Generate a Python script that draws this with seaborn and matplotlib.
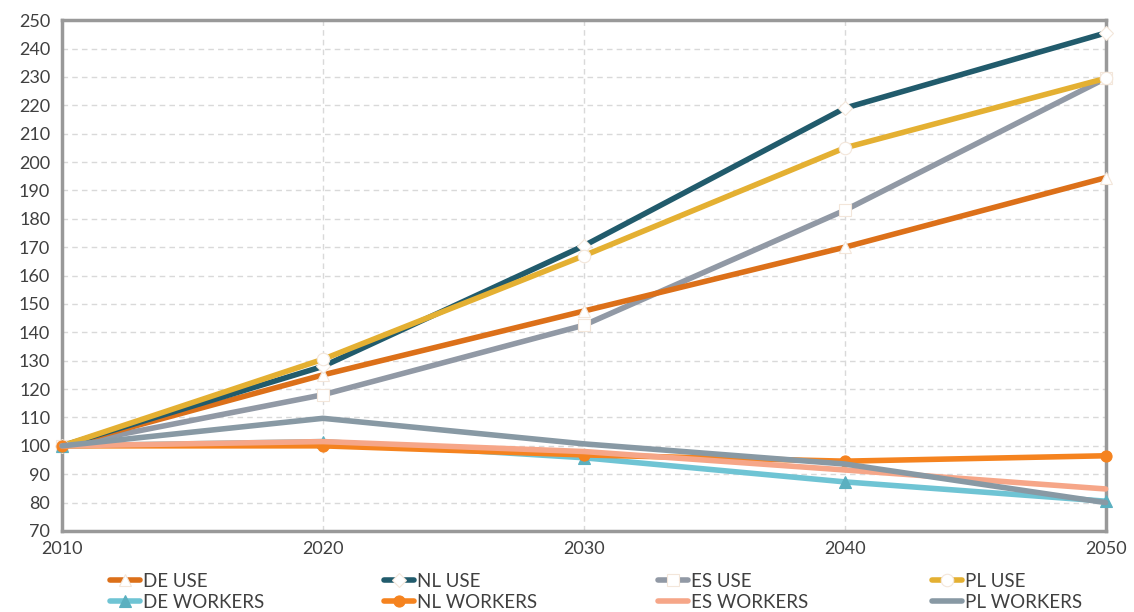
import pandas as pd
import matplotlib
matplotlib.use("Agg")
import matplotlib.pyplot as plt
import seaborn as sns

# Data (index, 2010 = 100)
years = [2010, 2020, 2030, 2040, 2050]
series_names = ["DE USE", "NL USE", "ES USE", "PL USE",
                "DE WORKERS", "NL WORKERS", "ES WORKERS", "PL WORKERS"]
de_use = [100, 125, 147.5, 170, 194.5]
nl_use = [100, 128, 170.5, 219, 245.5]
es_use = [100, 118, 142.5, 183, 229.5]
pl_use = [100, 130.5, 167, 205, 229.5]
de_workers = [100, 101.5, 95.8, 87.3, 80.5]
nl_workers = [100, 100, 96.8, 94.6, 96.5]
es_workers = [100, 101.5, 98, 91.5, 84.8]
pl_workers = [100, 109.7, 100.7, 93.6, 80]

values = [de_use, nl_use, es_use, pl_use, de_workers, nl_workers, es_workers, pl_workers]

rows = []
for name, vals in zip(series_names, values):
    for y, v in zip(years, vals):
        rows.append({"Year": y, "Value": v, "Series": name})
df = pd.DataFrame(rows)

# styles
colors = {
    "DE USE": "#DC7019", "NL USE": "#215B6C", "ES USE": "#9199A5", "PL USE": "#E4B032",
    "DE WORKERS": "#6FC4D4", "NL WORKERS": "#F5831F", "ES WORKERS": "#F6A688", "PL WORKERS": "#8899A4",
}
markers = {
    "DE USE": "^", "NL USE": "D", "ES USE": "s", "PL USE": "o",
    "DE WORKERS": "^", "NL WORKERS": "o", "ES WORKERS": "", "PL WORKERS": "",
}
face = {
    "DE USE": "white", "NL USE": "white", "ES USE": "white", "PL USE": "white",
    "DE WORKERS": "#5BB0C0", "NL WORKERS": "#F5831F", "ES WORKERS": "#F6A688", "PL WORKERS": "#8899A4",
}
msize = {"DE USE": 9, "NL USE": 7, "ES USE": 8, "PL USE": 9,
         "DE WORKERS": 8, "NL WORKERS": 8, "ES WORKERS": 0, "PL WORKERS": 0}

sns.set_style("white")
plt.rcParams["font.family"] = ["Lato", "DejaVu Sans"]

fig, ax = plt.subplots(figsize=(11.34, 6.12), dpi=100)
fig.subplots_adjust(left=0.0547, right=0.975, top=0.967, bottom=0.1324)

draw_order = ["ES USE", "DE USE", "NL USE", "PL USE",
              "DE WORKERS", "NL WORKERS", "ES WORKERS", "PL WORKERS"]
for name in draw_order:
    sub = df[df["Series"] == name]
    m = markers[name] if markers[name] else None
    sns.lineplot(data=sub, x="Year", y="Value", ax=ax, color=colors[name], linewidth=4,
                 marker=m, markersize=msize[name], markerfacecolor=face[name],
                 markeredgecolor="#F3E6DA" if face[name] == "white" else face[name],
                 markeredgewidth=0.8, label=name, zorder=3, clip_on=False)

ax.set_xlim(2010, 2050)
ax.set_ylim(70, 250)
ax.set_xticks(years)
ax.set_yticks(range(70, 251, 10))
ax.set_xlabel("")
ax.set_ylabel("")
ax.grid(True, axis="both", linestyle=(0, (4, 3)), color="#D9D9D9", linewidth=1)
ax.set_axisbelow(True)
for s in ax.spines.values():
    s.set_color("#999999")
    s.set_linewidth(2.5)
ax.tick_params(axis="both", colors="#999999", length=5, width=1.5, labelcolor="#404040",
               labelsize=13, direction="out")
ax.tick_params(axis="x", pad=2)

ax.get_legend().remove()
handles, labels = ax.get_legend_handles_labels()
hmap = dict(zip(labels, handles))

# one small legend per column, placed like the reference
col_x = [110, 384, 658, 932]
for i, x in enumerate(col_x):
    pair = [series_names[i], series_names[i + 4]]
    leg = fig.legend([hmap[n] for n in pair], pair, loc="upper left",
                     bbox_to_anchor=(x / 1134, 1 - 573 / 612), frameon=False,
                     fontsize=13.5, handlelength=1.6, handletextpad=0.15,
                     labelspacing=0.2, borderpad=0, borderaxespad=0)
    for t in leg.get_texts():
        t.set_color("#404040")

fig.savefig("out.png", dpi=100)
